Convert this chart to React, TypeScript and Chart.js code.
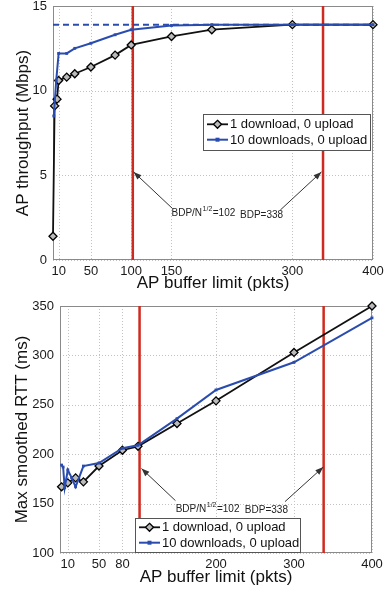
import React, { useEffect, useRef } from "react";
import { Chart, registerables } from "chart.js";

Chart.register(...registerables);

const FONT = "'Liberation Sans', Arial, Helvetica, sans-serif";

// ---------- shared ----------
const bdpLines = [102, 338];
const seriesLabels = ["1 download, 0 upload", "10 downloads, 0 upload"];

// ---------- top chart: AP throughput ----------
const topXTicks = [10, 50, 100, 150, 300, 400];
const topYTicks = [0, 5, 10, 15];
const topOneX = [3, 5, 8, 10, 20, 30, 50, 80, 100, 150, 200, 300, 400];
const topOneY = [1.4, 9.1, 9.5, 10.6, 10.8, 11.0, 11.4, 12.1, 12.7, 13.2, 13.6, 13.9, 13.9];
const topTenX = [4, 7, 10, 20, 30, 50, 80, 100, 150, 200, 300, 400];
const topTenY = [8.5, 10.6, 12.2, 12.2, 12.5, 12.8, 13.3, 13.6, 13.85, 13.9, 13.9, 13.9];
const topCapacity = 13.9;

// ---------- bottom chart: max smoothed RTT ----------
const botXTicks = [10, 50, 80, 200, 300, 400];
const botYTicks = [100, 150, 200, 250, 300, 350];
const botOneX = [2, 10, 20, 30, 50, 80, 100, 150, 200, 300, 400];
const botOneY = [167, 171, 176, 172, 188, 204, 208, 231, 254, 303, 350];
const botTenX = [2, 4, 6, 10, 15, 20, 30, 50, 80, 100, 150, 200, 300, 400];
const botTenY = [189, 187, 166, 184, 176, 167, 188, 191, 206, 209, 236, 265, 293, 338];

const BLACK = "#111111";
const BLUE = "#2a4cae";
const RED = "#cf2a1f";

type Note = {
  arrows: { tx: number; ty: number; hx: number; hy: number }[];
  texts: { x: number; y: number; parts: [string, string, string] }[];
};

type Cfg = {
  height: number;
  plotBottom: number;
  padTop: number;
  padRight: number;
  yWidth: number;
  xMin: number;
  xMax: number;
  yMin: number;
  yMax: number;
  xTicks: number[];
  yTicks: number[];
  oneX: number[];
  oneY: number[];
  tenX: number[];
  tenY: number[];
  capacity?: number;
  yTitle: string;
  yTitlePad: number;
  notes: Note;
  legend: { left: number; top: number; w: number; h: number };
};

const topNotes: Note = {
  arrows: [
    { tx: 151, ty: 3.05, hx: 103, hy: 5.2 },
    { tx: 285, ty: 2.95, hx: 336, hy: 5.2 },
  ],
  texts: [
    { x: 150, y: 2.75, parts: ["BDP/N", "1/2", "=102"] },
    { x: 235, y: 2.62, parts: ["BDP=338", "", ""] },
  ],
};

const botNotes: Note = {
  arrows: [
    { tx: 148, ty: 153, hx: 104.5, hy: 185.5 },
    { tx: 288.5, ty: 152, hx: 337.5, hy: 187 },
  ],
  texts: [
    { x: 148.3, y: 144.4, parts: ["BDP/N", "1/2", "=102"] },
    { x: 237, y: 143.5, parts: ["BDP=338", "", ""] },
  ],
};

function drawDiamond(ctx: CanvasRenderingContext2D, x: number, y: number, r: number) {
  ctx.beginPath();
  ctx.moveTo(x, y - r);
  ctx.lineTo(x + r, y);
  ctx.lineTo(x, y + r);
  ctx.lineTo(x - r, y);
  ctx.closePath();
  ctx.fillStyle = "#bbbbbb";
  ctx.fill();
  ctx.strokeStyle = "#000";
  ctx.lineWidth = 1.3;
  ctx.stroke();
}

function makePlugin(cfg: Cfg) {
  return {
    id: "decor",
    beforeDatasetsDraw(chart: any) {
      const { ctx, chartArea: a, scales } = chart;
      const x = scales.x;
      const y = scales.y;
      ctx.save();
      ctx.strokeStyle = "#c2c2c2";
      ctx.lineWidth = 1;
      ctx.setLineDash([1, 2]);
      for (const v of cfg.xTicks) {
        const px = Math.round(x.getPixelForValue(v)) + 0.5;
        ctx.beginPath();
        ctx.moveTo(px, a.top);
        ctx.lineTo(px, a.bottom);
        ctx.stroke();
      }
      for (const v of cfg.yTicks) {
        const py = Math.round(y.getPixelForValue(v)) + 0.5;
        ctx.beginPath();
        ctx.moveTo(a.left, py);
        ctx.lineTo(a.right, py);
        ctx.stroke();
      }
      ctx.setLineDash([]);
      ctx.strokeStyle = "#8a8a8a";
      ctx.strokeRect(a.left + 0.5, a.top + 0.5, a.right - a.left - 1, a.bottom - a.top - 1);
      ctx.restore();
    },
    afterDatasetsDraw(chart: any) {
      const { ctx, scales } = chart;
      const x = scales.x;
      const y = scales.y;
      ctx.save();
      // arrows
      ctx.strokeStyle = "#333";
      ctx.fillStyle = "#333";
      ctx.lineWidth = 1;
      for (const ar of cfg.notes.arrows) {
        const tx = x.getPixelForValue(ar.tx);
        const ty = y.getPixelForValue(ar.ty);
        const hx = x.getPixelForValue(ar.hx);
        const hy = y.getPixelForValue(ar.hy);
        ctx.beginPath();
        ctx.moveTo(tx, ty);
        ctx.lineTo(hx, hy);
        ctx.stroke();
        const ang = Math.atan2(hy - ty, hx - tx);
        const L = 8;
        const W = 3;
        const bx = hx - L * Math.cos(ang);
        const by = hy - L * Math.sin(ang);
        ctx.beginPath();
        ctx.moveTo(hx, hy);
        ctx.lineTo(bx + W * Math.sin(ang), by - W * Math.cos(ang));
        ctx.lineTo(bx - W * Math.sin(ang), by + W * Math.cos(ang));
        ctx.closePath();
        ctx.fill();
      }
      // texts
      ctx.fillStyle = "#222";
      ctx.textBaseline = "middle";
      ctx.textAlign = "left";
      for (const t of cfg.notes.texts) {
        let px = x.getPixelForValue(t.x);
        const py = y.getPixelForValue(t.y);
        ctx.font = `10px ${FONT}`;
        ctx.fillText(t.parts[0], px, py);
        px += ctx.measureText(t.parts[0]).width;
        if (t.parts[1]) {
          ctx.font = `7px ${FONT}`;
          ctx.fillText(t.parts[1], px + 0.5, py - 4);
          px += ctx.measureText(t.parts[1]).width + 1;
        }
        if (t.parts[2]) {
          ctx.font = `10px ${FONT}`;
          ctx.fillText(t.parts[2], px, py);
        }
      }
      // legend
      const lg = cfg.legend;
      const lx = lg.left;
      const ly = lg.top;
      ctx.fillStyle = "#fff";
      ctx.fillRect(lx, ly, lg.w, lg.h);
      ctx.strokeStyle = "#555";
      ctx.lineWidth = 1;
      ctx.strokeRect(lx + 0.5, ly + 0.5, lg.w, lg.h);
      const cy = ly + lg.h / 2;
      const rows = [cy - 7.7, cy + 7.7];
      ctx.font = `13px ${FONT}`;
      ctx.textBaseline = "middle";
      rows.forEach((ry, i) => {
        const s0 = lx + 4;
        const s1 = lx + 25;
        ctx.strokeStyle = i === 0 ? BLACK : BLUE;
        ctx.lineWidth = i === 0 ? 1.8 : 2;
        ctx.beginPath();
        ctx.moveTo(s0, ry);
        ctx.lineTo(s1, ry);
        ctx.stroke();
        const mx = (s0 + s1) / 2;
        if (i === 0) {
          drawDiamond(ctx, mx, ry, 4);
        } else {
          ctx.fillStyle = BLUE;
          ctx.fillRect(mx - 2, ry - 2, 4, 4);
        }
        ctx.fillStyle = "#111";
        ctx.fillText(seriesLabels[i], lx + 27, ry + 0.5);
      });
      ctx.restore();
    },
  };
}

function buildChart(canvas: HTMLCanvasElement, cfg: Cfg) {
  const toPts = (xs: number[], ys: number[]) => xs.map((v, i) => ({ x: v, y: ys[i] }));
  const datasets: any[] = [];
  datasets.push({
    label: seriesLabels[0],
    data: toPts(cfg.oneX, cfg.oneY),
    borderColor: BLACK,
    borderWidth: 1.8,
    pointStyle: "rectRot",
    pointRadius: 4,
    pointBackgroundColor: "#bbbbbb",
    pointBorderColor: "#000",
    pointBorderWidth: 1.3,
    clip: false,
    order: 1,
  });
  datasets.push({
    label: seriesLabels[1],
    data: toPts(cfg.tenX, cfg.tenY),
    borderColor: BLUE,
    borderWidth: 2,
    pointStyle: "rect",
    pointRadius: 2,
    pointBackgroundColor: BLUE,
    pointBorderColor: BLUE,
    pointBorderWidth: 0,
    clip: false,
    order: 0,
  });
  if (cfg.capacity !== undefined) {
    datasets.push({
      label: "capacity",
      data: [
        { x: cfg.xMin, y: cfg.capacity },
        { x: cfg.xMax, y: cfg.capacity },
      ],
      borderColor: BLUE,
      borderWidth: 2,
      borderDash: [6, 4],
      pointRadius: 0,
      order: 5,
    });
  }
  for (const b of bdpLines) {
    datasets.push({
      label: "bdp" + b,
      data: [
        { x: b, y: cfg.yMin },
        { x: b, y: cfg.yMax },
      ],
      borderColor: RED,
      borderWidth: 2.5,
      pointRadius: 0,
      order: 10,
    });
  }

  const tickFont = { family: FONT, size: 13 };
  const titleFont = { family: FONT, size: 17 };

  return new Chart(canvas, {
    type: "line",
    data: { datasets },
    plugins: [makePlugin(cfg)],
    options: {
      animation: false,
      responsive: false,
      maintainAspectRatio: false,
      layout: { padding: { top: cfg.padTop, right: cfg.padRight, left: 0, bottom: 0 } },
      plugins: { legend: { display: false }, tooltip: { enabled: false } },
      elements: { line: { tension: 0 } },
      scales: {
        x: {
          type: "linear",
          min: cfg.xMin,
          max: cfg.xMax,
          afterBuildTicks: (s: any) => {
            s.ticks = cfg.xTicks.map((v) => ({ value: v }));
          },
          afterFit: (s: any) => {
            s.height = cfg.height - cfg.plotBottom;
            s.paddingLeft = 0;
            s.paddingRight = 0;
          },
          grid: { display: false, drawTicks: false },
          border: { display: false },
          ticks: {
            font: tickFont,
            color: "#1a1a1a",
            padding: 4,
            autoSkip: false,
            maxRotation: 0,
            callback: (v: any) => String(v),
          },
          title: {
            display: true,
            text: "AP buffer limit (pkts)",
            font: titleFont,
            color: "#111",
            padding: { top: 0, bottom: 2 },
          },
        },
        y: {
          type: "linear",
          min: cfg.yMin,
          max: cfg.yMax,
          afterBuildTicks: (s: any) => {
            s.ticks = cfg.yTicks.map((v) => ({ value: v }));
          },
          afterFit: (s: any) => {
            s.width = cfg.yWidth;
            s.paddingTop = 0;
            s.paddingBottom = 0;
          },
          grid: { display: false, drawTicks: false },
          border: { display: false },
          ticks: {
            font: tickFont,
            color: "#1a1a1a",
            padding: 6,
            autoSkip: false,
            callback: (v: any) => String(v),
          },
          title: {
            display: true,
            text: cfg.yTitle,
            font: titleFont,
            color: "#111",
            padding: { top: cfg.yTitlePad, bottom: 0 },
          },
        },
      },
    } as any,
  });
}

const topCfg: Cfg = {
  height: 296,
  plotBottom: 260,
  padTop: 6,
  padRight: 12,
  yWidth: 53,
  xMin: 3,
  xMax: 400,
  yMin: 0,
  yMax: 15,
  xTicks: topXTicks,
  yTicks: topYTicks,
  oneX: topOneX,
  oneY: topOneY,
  tenX: topTenX,
  tenY: topTenY,
  capacity: topCapacity,
  yTitle: "AP throughput (Mbps)",
  yTitlePad: 13,
  notes: topNotes,
  legend: { left: 203, top: 114, w: 167, h: 36 },
};

const botCfg: Cfg = {
  height: 294,
  plotBottom: 257,
  padTop: 10,
  padRight: 13,
  yWidth: 60,
  xMin: 0,
  xMax: 400,
  yMin: 100,
  yMax: 350,
  xTicks: botXTicks,
  yTicks: botYTicks,
  oneX: botOneX,
  oneY: botOneY,
  tenX: botTenX,
  tenY: botTenY,
  yTitle: "Max smoothed RTT (ms)",
  yTitlePad: 12,
  notes: botNotes,
  legend: { left: 135, top: 222, w: 165, h: 34 },
};

function ChartCanvas({ cfg, top }: { cfg: Cfg; top: number }) {
  const ref = useRef<HTMLCanvasElement | null>(null);
  useEffect(() => {
    if (!ref.current) return;
    const c = buildChart(ref.current, cfg);
    return () => c.destroy();
  }, [cfg]);
  return (
    <canvas
      ref={ref}
      width={385}
      height={cfg.height}
      style={{ position: "absolute", left: 0, top, width: 385, height: cfg.height }}
    />
  );
}

export default function App() {
  return (
    <div style={{ position: "absolute", left: 0, top: 0, width: 385, height: 590, background: "#fff" }}>
      <ChartCanvas cfg={topCfg} top={0} />
      <ChartCanvas cfg={botCfg} top={296} />
    </div>
  );
}
